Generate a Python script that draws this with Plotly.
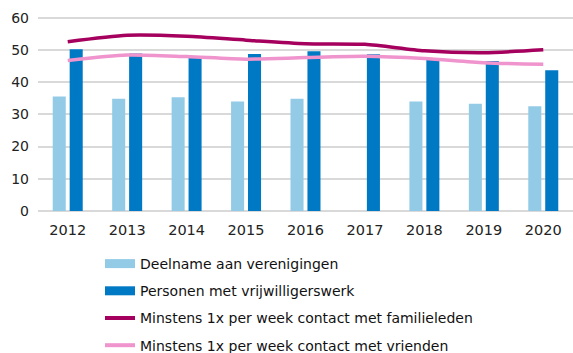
import plotly.graph_objects as go

years = ["2012", "2013", "2014", "2015", "2016", "2017", "2018", "2019", "2020"]
verenigingen = [35.5, 34.8, 35.3, 34.0, 34.8, None, 34.0, 33.3, 32.5]
vrijwilligers = [50.2, 48.9, 47.9, 48.7, 49.6, 48.6, 47.0, 46.5, 43.7]
familie = [52.5, 54.5, 54.2, 53.0, 51.9, 51.7, 49.7, 49.1, 50.0]
vrienden = [46.7, 48.4, 47.9, 47.1, 47.6, 48.0, 47.3, 46.0, 45.5]
y_ticks = [0, 10, 20, 30, 40, 50, 60]

names = [
    "Deelname aan verenigingen",
    "Personen met vrijwilligerswerk",
    "Minstens 1x per week contact met familieleden",
    "Minstens 1x per week contact met vrienden",
]
colors = ["#93cbe7", "#0079c4", "#a5005e", "#f094cd"]

fig = go.Figure()
fig.add_trace(go.Bar(x=years, y=verenigingen, marker=dict(color=colors[0], line_width=0),
                     showlegend=False, hoverinfo="y"))
fig.add_trace(go.Bar(x=years, y=vrijwilligers, marker=dict(color=colors[1], line_width=0),
                     showlegend=False, hoverinfo="y"))
fig.add_trace(go.Scatter(x=years, y=familie, mode="lines", showlegend=False,
                         line=dict(color=colors[2], width=3.5, shape="spline", smoothing=0.7)))
fig.add_trace(go.Scatter(x=years, y=vrienden, mode="lines", showlegend=False,
                         line=dict(color=colors[3], width=3.5, shape="spline", smoothing=0.7)))

# legend entries: wide flat swatches for the bars, thick strokes for the lines
swatch_widths = [9, 9, 4, 4]
for i, (name, col, w) in enumerate(zip(names, colors, swatch_widths)):
    fig.add_trace(go.Scatter(x=[None], y=[None], mode="lines", name=name,
                             legendgroup=f"g{i}", line=dict(color=col, width=w)))

fig.update_layout(
    width=573, height=353,
    margin=dict(l=38, r=0, t=16, b=142, autoexpand=False),
    paper_bgcolor="white", plot_bgcolor="white",
    barmode="group", bargap=0.43, bargroupgap=0.23,
    font=dict(family="Verdana, DejaVu Sans, sans-serif", size=14, color="#222222"),
    xaxis=dict(showgrid=False, showline=False, ticks="", tickfont=dict(size=14.5),
               tickangle=0, ticklabelstandoff=8),
    yaxis=dict(range=[0, 60.5], tickvals=y_ticks, showgrid=True, gridcolor="#d9d9d9",
               gridwidth=1.5, zeroline=True, zerolinecolor="#d9d9d9", zerolinewidth=1.5,
               showline=False, ticks="", tickfont=dict(size=14), ticklabelstandoff=8),
    legend=dict(orientation="v", xref="container", yref="container",
                x=100 / 573, xanchor="left", y=1 - 248 / 353, yanchor="top",
                font=dict(size=14, color="#111111"), tracegroupgap=6,
                bgcolor="rgba(0,0,0,0)"),
)

fig.write_html("out.html")
